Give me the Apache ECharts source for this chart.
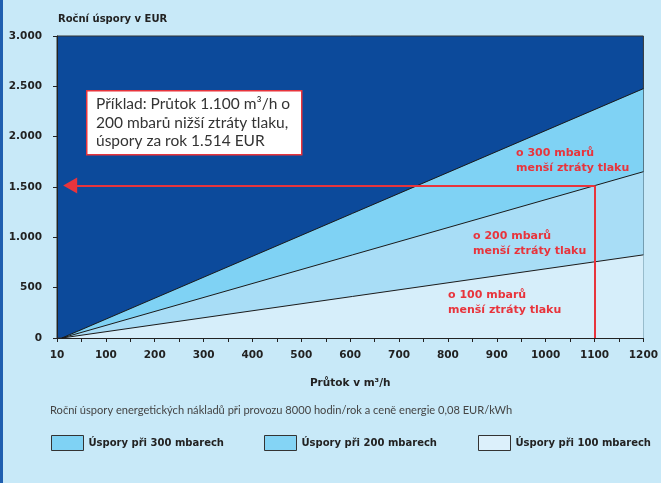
<!DOCTYPE html>
<html>
<head>
<meta charset="utf-8">
<script src="https://cdn.jsdelivr.net/npm/echarts@6/dist/echarts.min.js"></script>
<style>
html,body{margin:0;padding:0;background:#c8e9f8;}
#chart{width:661px;height:483px;}
</style>
</head>
<body>
<div id="chart"></div>
<script>
// Data
var flows = [10, 1200];                 // m3/h
var saving300 = [0, 2477];              // EUR/yr at 300 mbar
var saving200 = [0, 1652];              // EUR/yr at 200 mbar
var saving100 = [0, 826];               // EUR/yr at 100 mbar
var exampleFlow = 1100;
var exampleSaving = 1514;
var yTicks = [0, 500, 1000, 1500, 2000, 2500, 3000];
var xTickLabels = ['10','100','200','300','400','500','600','700','800','900','1000','1100','1200'];
var seriesNames = ['Úspory při 300 mbarech', 'Úspory při 200 mbarech', 'Úspory při 100 mbarech'];

function pairs(vals){ return flows.map(function(f,i){ return [f, vals[i]]; }); }

var FONT = 'DejaVu Sans';
var RED = '#e8343c';
var DARK = '#222';

var chart = echarts.init(document.getElementById('chart'));

function areaSeries(name, vals, color){
  return {
    name: name, type: 'line', data: pairs(vals), symbol: 'none',
    lineStyle: {color: '#1a1a1a', width: 1},
    itemStyle: {color: color},
    areaStyle: {color: color, opacity: 1, origin: 'start'},
    silent: true, animation: false
  };
}

function legendAt(left, name, color){
  return {
    left: left, top: 435, padding: 0, icon: 'rect', itemWidth: 32, itemHeight: 15, itemGap: 6,
    selectedMode: false,
    textStyle: {fontFamily: FONT, fontWeight: 'bold', fontSize: 10, color: DARK},
    data: [{name: name, itemStyle: {color: color, borderColor: '#333', borderWidth: 1}}]
  };
}

var option = {
  backgroundColor: '#c8e9f8',
  animation: false,
  grid: {left: 57, right: 14, top: 36, bottom: 145, show: true,
         backgroundColor: '#0c4a9b', borderColor: '#333', borderWidth: 1},
  legend: [
    legendAt(51, seriesNames[0], '#7fd2f4'),
    legendAt(264, seriesNames[1], '#84d4f5'),
    legendAt(478, seriesNames[2], '#dcf0fb')
  ],
  xAxis: {
    type: 'value', min: 0, max: 1200, interval: 50,
    name: 'Průtok v m³/h', nameLocation: 'middle', nameGap: 40,
    nameTextStyle: {fontFamily: FONT, fontWeight: 'bold', fontSize: 10.5, color: DARK},
    axisLine: {show: true, lineStyle: {color: DARK, width: 1}},
    axisTick: {show: true, length: 4, lineStyle: {color: DARK}},
    splitLine: {show: false},
    axisLabel: {
      margin: 12, fontFamily: FONT, fontWeight: 'bold', fontSize: 10.5, color: DARK,
      formatter: function(v){ return v % 100 === 0 ? xTickLabels[v/100] : ''; }
    }
  },
  yAxis: {
    type: 'value', min: 0, max: 3000, interval: 500,
    axisLine: {show: true, lineStyle: {color: DARK, width: 1}},
    axisTick: {show: true, length: 4, lineStyle: {color: DARK}},
    splitLine: {show: false},
    axisLabel: {
      margin: 15, fontFamily: FONT, fontWeight: 'bold', fontSize: 10.5, color: DARK,
      formatter: function(v){ return v >= 1000 ? Math.floor(v/1000) + '.' + String(v%1000).padStart(3,'0') : String(v); }
    }
  },
  series: [
    areaSeries(seriesNames[0], saving300, '#7fd2f4'),
    areaSeries(seriesNames[1], saving200, '#a8ddf6'),
    areaSeries(seriesNames[2], saving100, '#d6eefa'),
    {
      name: 'example', type: 'line', data: [], silent: true, animation: false,
      markLine: {
        silent: true, animation: false,
        label: {show: false},
        lineStyle: {color: RED, width: 2, type: 'solid'},
        data: [
          [{coord: [exampleFlow, 0], symbol: 'none'}, {coord: [exampleFlow, exampleSaving], symbol: 'none'}],
          [{coord: [exampleFlow, exampleSaving], symbol: 'none'}, {coord: [27, exampleSaving], symbol: 'triangle', symbolSize: [16, 14]}]
        ]
      }
    }
  ],
  graphic: [
    {type: 'rect', left: 0, top: 0, shape: {width: 3, height: 483}, style: {fill: '#1f5fb0'}},
    {type: 'text', left: 58, top: 14, style: {text: 'Roční úspory v EUR', fontFamily: FONT, fontWeight: 'bold', fontSize: 10, fill: DARK}},
    {type: 'rect', left: 86, top: 90, z: 10, shape: {width: 215, height: 64}, style: {fill: '#fff', stroke: RED, lineWidth: 1.5}},
    {type: 'text', left: 96, top: 95, z: 11, style: {text: 'Příklad: Průtok 1.100 m³/h o\n200 mbarů nižší ztráty tlaku,\núspory za rok 1.514 EUR', fontFamily: 'Lato', fontSize: 15.5, lineHeight: 18.5, fill: '#333'}},
    {type: 'text', left: 516, top: 146, z: 10, style: {text: 'o 300 mbarů\nmenší ztráty tlaku', fontFamily: FONT, fontWeight: 'bold', fontSize: 11, lineHeight: 15, fill: RED}},
    {type: 'text', left: 473, top: 229, z: 10, style: {text: 'o 200 mbarů\nmenší ztráty tlaku', fontFamily: FONT, fontWeight: 'bold', fontSize: 11, lineHeight: 15, fill: RED}},
    {type: 'text', left: 448, top: 288, z: 10, style: {text: 'o 100 mbarů\nmenší ztráty tlaku', fontFamily: FONT, fontWeight: 'bold', fontSize: 11, lineHeight: 15, fill: RED}},
    {type: 'text', left: 50, top: 405, style: {text: 'Roční úspory energetických nákladů při provozu 8000 hodin/rok a ceně energie 0,08 EUR/kWh', fontFamily: 'Lato', fontSize: 11.1, fill: '#444'}}
  ]
};
chart.setOption(option);
</script>
</body>
</html>
